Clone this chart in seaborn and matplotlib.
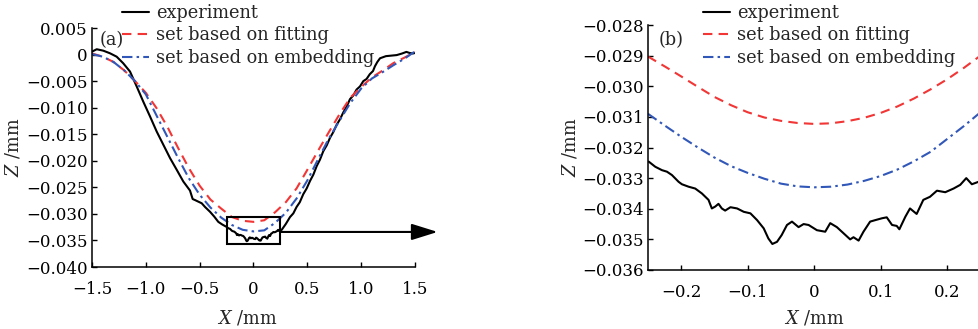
import matplotlib
matplotlib.use("Agg")
import matplotlib.pyplot as plt
import seaborn as sns
from matplotlib.patches import Rectangle
from matplotlib.ticker import FuncFormatter

# ---------------------------------------------------
# Data
# ---------------------------------------------------

# panel (a): full profile, measured curve outside the zoomed window
exp_outer_left_x = [-1.5, -1.456, -1.395, -1.333, -1.271, -1.21, -1.147, -1.085, -1.023,
                    -0.96, -0.899, -0.837, -0.775, -0.713, -0.652, -0.59, -0.565, -0.543,
                    -0.512, -0.481, -0.45, -0.404, -0.365, -0.327, -0.29]
exp_outer_left_z = [0.00055, 0.001, 0.00073, 0.00024, -0.0004, -0.00164, -0.0032, -0.0060,
                    -0.0089, -0.0117, -0.0145, -0.0170, -0.0195, -0.0217, -0.0239, -0.0256,
                    -0.0272, -0.0274, -0.0277, -0.0280, -0.0287, -0.0296, -0.0305, -0.0315,
                    -0.0320]
exp_outer_right_x = [0.262, 0.30, 0.339, 0.37, 0.40, 0.43, 0.462, 0.494, 0.525, 0.556,
                     0.587, 0.617, 0.648, 0.68, 0.71, 0.741, 0.773, 0.803, 0.834, 0.865,
                     0.896, 0.927, 0.957, 0.989, 1.02, 1.05, 1.08, 1.11, 1.128, 1.15,
                     1.175, 1.23, 1.28, 1.33, 1.38, 1.42, 1.45, 1.48, 1.5]
exp_outer_right_z = [-0.0330, -0.0319, -0.0306, -0.0299, -0.0287, -0.0278, -0.0263, -0.0252,
                     -0.0238, -0.0226, -0.0210, -0.0198, -0.0182, -0.0171, -0.0157, -0.0146,
                     -0.0132, -0.0122, -0.0109, -0.0098, -0.0084, -0.0077, -0.0066, -0.0060,
                     -0.0050, -0.0046, -0.0037, -0.0031, -0.0022, -0.0014, -0.0007, -0.0003,
                     -0.0002, -0.0001, 0.0002, 0.0005, 0.0003, 0.0002, 0.0003]

full_x = [-1.5, -1.4, -1.3, -1.2, -1.1, -1.0, -0.9, -0.8, -0.7, -0.6, -0.5, -0.4, -0.3,
          -0.2, -0.1, 0.0, 0.1, 0.2, 0.3, 0.4, 0.5, 0.6, 0.7, 0.8, 0.9, 1.0, 1.1, 1.2,
          1.3, 1.4, 1.5]
fit_full_z = [0.0002, -0.0004, -0.0014, -0.0030, -0.0050, -0.0072, -0.0101, -0.0136, -0.0176,
              -0.0214, -0.0247, -0.0273, -0.0290, -0.0306, -0.0313, -0.0315, -0.0312, -0.0297,
              -0.0278, -0.0252, -0.0217, -0.0181, -0.0146, -0.0112, -0.0081, -0.0061, -0.0043,
              -0.0030, -0.0016, -0.0006, 0.0005]
emb_full_z = [0.0001, -0.0004, -0.0014, -0.0030, -0.0050, -0.0075, -0.0115, -0.0155, -0.0195,
              -0.0233, -0.0264, -0.0288, -0.0307, -0.0321, -0.0330, -0.0333, -0.0331, -0.0317,
              -0.0298, -0.0271, -0.0237, -0.0197, -0.0158, -0.0124, -0.0091, -0.0064, -0.0045,
              -0.0033, -0.0020, -0.0008, 0.0006]

# panel (b): zoom on the bottom of the profile
exp_zoom_x = [-0.249, -0.239, -0.229, -0.2215, -0.214, -0.204, -0.199, -0.189, -0.179, -0.169,
              -0.159, -0.154, -0.149, -0.144, -0.139, -0.134, -0.126, -0.116, -0.106, -0.096,
              -0.086, -0.076, -0.069, -0.063, -0.056, -0.049, -0.041, -0.0335, -0.0236, -0.016,
              -0.0085, 0.004, 0.0165, 0.024, 0.034, 0.044, 0.054, 0.059, 0.0667, 0.074, 0.084,
              0.092, 0.102, 0.109, 0.117, 0.124, 0.128, 0.137, 0.144, 0.154, 0.164, 0.174,
              0.1845, 0.197, 0.2095, 0.2195, 0.2286, 0.237, 0.247]
exp_zoom_z = [-0.03246, -0.03263, -0.03274, -0.03279, -0.03290, -0.03312, -0.03320, -0.03328,
              -0.03334, -0.03350, -0.03371, -0.03399, -0.03393, -0.03384, -0.03399, -0.03406,
              -0.03395, -0.03399, -0.03410, -0.03415, -0.03437, -0.03464, -0.03497, -0.03515,
              -0.03508, -0.03486, -0.03453, -0.03442, -0.03460, -0.03450, -0.03453, -0.03470,
              -0.03475, -0.03447, -0.03460, -0.03480, -0.03500, -0.03493, -0.03504, -0.03475,
              -0.03442, -0.03437, -0.03431, -0.03428, -0.03453, -0.03456, -0.03467, -0.03426,
              -0.03399, -0.03417, -0.03371, -0.03361, -0.03341, -0.03346, -0.03334, -0.03322,
              -0.03300, -0.03320, -0.03312]

zoom_x = [-0.25, -0.225, -0.2, -0.175, -0.15, -0.125, -0.1, -0.075, -0.05, -0.025, 0.0,
          0.025, 0.05, 0.075, 0.1, 0.125, 0.15, 0.175, 0.2, 0.225, 0.25]
fit_zoom_z = [-0.02903, -0.02935, -0.02968, -0.03002, -0.03035, -0.03062, -0.03085, -0.03102,
              -0.03113, -0.03120, -0.03123, -0.03121, -0.03114, -0.03103, -0.03087, -0.03066,
              -0.03040, -0.03010, -0.02977, -0.02940, -0.02900]
emb_zoom_z = [-0.03090, -0.03128, -0.03165, -0.03200, -0.03233, -0.03261, -0.03283, -0.03302,
              -0.03318, -0.03327, -0.03330, -0.03328, -0.03321, -0.03309, -0.03293, -0.03272,
              -0.03245, -0.03214, -0.03172, -0.03130, -0.03085]

labels = ["experiment", "set based on fitting", "set based on embedding"]

xticks_a = [-1.5, -1.0, -0.5, 0.0, 0.5, 1.0, 1.5]
yticks_a = [0.005, 0.0, -0.005, -0.010, -0.015, -0.020, -0.025, -0.030, -0.035, -0.040]
xticks_b = [-0.2, -0.1, 0.0, 0.1, 0.2]
yticks_b = [-0.028, -0.029, -0.030, -0.031, -0.032, -0.033, -0.034, -0.035, -0.036]

# ---------------------------------------------------
# Style
# ---------------------------------------------------

sns.set_style("ticks")
plt.rcParams["font.family"] = ["DejaVu Serif"]
plt.rcParams["mathtext.fontset"] = "dejavuserif"

RED = "#f23535"
BLUE = "#3157b8"
TICK_FS = 12
LEG_FS = 12.8


def fmt(decimals):
    def _f(v, pos):
        if abs(v) < 1e-12:
            return "0"
        return f"{v:.{decimals}f}".replace("-", "\u2212")
    return FuncFormatter(_f)


def style_axis(ax):
    sns.despine(ax=ax)
    for side in ["left", "bottom"]:
        ax.spines[side].set_linewidth(1.1)
        ax.spines[side].set_color("black")
    ax.tick_params(axis="both", direction="in", length=3.5, width=1.0,
                   labelsize=TICK_FS, colors="black")
    ax.tick_params(axis="x", pad=10)
    ax.tick_params(axis="y", pad=3)


def draw_lines(ax, exp_x, exp_z, cx, fit_z, emb_z):
    sns.lineplot(x=exp_x, y=exp_z, ax=ax, color="black", lw=1.5,
                 label=labels[0], estimator=None, sort=False)
    sns.lineplot(x=cx, y=fit_z, ax=ax, color=RED, lw=1.5,
                 linestyle=(0, (4.5, 3)), label=labels[1], estimator=None, sort=False)
    sns.lineplot(x=cx, y=emb_z, ax=ax, color=BLUE, lw=1.5,
                 linestyle=(0, (5, 2, 1.2, 2)), label=labels[2], estimator=None, sort=False)


fig = plt.figure(figsize=(9.79, 3.29), dpi=100)
W, H = 979, 329

ax1 = fig.add_axes([92 / W, 1 - 267 / H, 323 / W, 239 / H])
ax2 = fig.add_axes([648 / W, 1 - 270 / H, 332.5 / W, 245 / H])

# ---------------------------------------------------
# Panel (a)
# ---------------------------------------------------

exp_full_x = exp_outer_left_x + exp_zoom_x + exp_outer_right_x
exp_full_z = exp_outer_left_z + exp_zoom_z + exp_outer_right_z
draw_lines(ax1, exp_full_x, exp_full_z, full_x, fit_full_z, emb_full_z)

ax1.set_xlim(-1.5, 1.5)
ax1.set_ylim(-0.040, 0.005)
ax1.set_xticks(xticks_a)
ax1.set_yticks(yticks_a)
ax1.xaxis.set_major_formatter(fmt(1))
ax1.yaxis.set_major_formatter(fmt(3))
style_axis(ax1)

# box around the zoomed part and arrow to panel (b)
ax1.add_patch(Rectangle((-0.25, -0.0357), 0.5, 0.0051, fill=False,
                        edgecolor="black", lw=1.5, zorder=5))
ax1.annotate("", xy=(1.71, -0.0334), xytext=(0.25, -0.0334),
             annotation_clip=False,
             arrowprops=dict(arrowstyle="-|>,head_length=0.8,head_width=0.25",
                             mutation_scale=20, color="black", lw=1.5,
                             shrinkA=0, shrinkB=0))

ax1.set_xlabel("$X$ /mm", fontsize=LEG_FS)
ax1.set_ylabel("$Z$ /mm", fontsize=LEG_FS)
ax1.xaxis.set_label_coords(0.48, -0.175)
ax1.yaxis.set_label_coords(-0.214, 0.5)

# ---------------------------------------------------
# Panel (b)
# ---------------------------------------------------

draw_lines(ax2, exp_zoom_x, exp_zoom_z, zoom_x, fit_zoom_z, emb_zoom_z)

ax2.set_xlim(-0.25, 0.25)
ax2.set_ylim(-0.036, -0.028)
ax2.set_xticks(xticks_b)
ax2.set_yticks(yticks_b)
ax2.xaxis.set_major_formatter(fmt(1))
ax2.yaxis.set_major_formatter(fmt(3))
style_axis(ax2)

ax2.set_xlabel("$X$ /mm", fontsize=LEG_FS)
ax2.set_ylabel("$Z$ /mm", fontsize=LEG_FS)
ax2.xaxis.set_label_coords(0.5, -0.159)
ax2.yaxis.set_label_coords(-0.2075, 0.5)

# ---------------------------------------------------
# Legends and panel tags
# ---------------------------------------------------

for ax, x0 in [(ax1, 122), (ax2, 703)]:
    ax.legend(loc="upper left", bbox_to_anchor=(x0 / W, 1 - 4 / H),
              bbox_transform=fig.transFigure, frameon=False, fontsize=LEG_FS,
              borderpad=0, borderaxespad=0, handlelength=1.5,
              handletextpad=0.42, labelspacing=0.25)

fig.text(100 / W, 1 - 40 / H, "(a)", fontsize=LEG_FS, va="center", ha="left")
fig.text(659 / W, 1 - 40 / H, "(b)", fontsize=LEG_FS, va="center", ha="left")

fig.savefig("out.png", dpi=100)
